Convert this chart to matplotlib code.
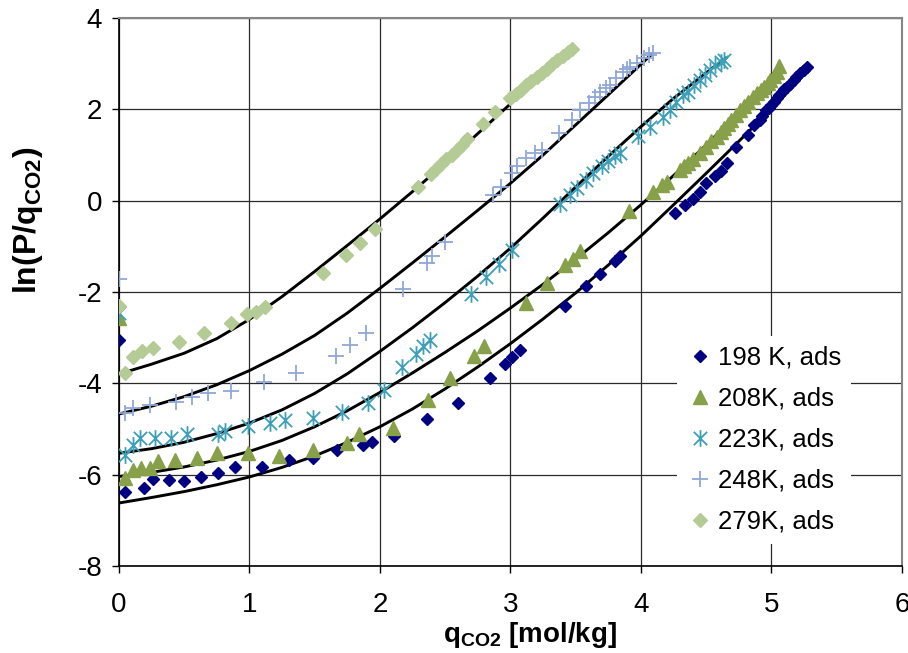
import matplotlib
matplotlib.use("Agg")
import matplotlib.pyplot as plt
from matplotlib.path import Path

plt.rcParams['font.family'] = ['Liberation Sans', 'DejaVu Sans']
plt.rcParams['axes.unicode_minus'] = False

# measured adsorption points: loading q [mol/kg] and ln(P/q)
q198 = [0.00, 0.05, 0.19, 0.26, 0.38, 0.50, 0.63, 0.76, 0.89, 1.10, 1.30, 1.49, 1.67, 1.87, 1.94,
        2.11, 2.36, 2.60, 2.84, 2.96, 3.01, 3.07, 3.42, 3.58, 3.69, 3.80, 3.84, 4.26, 4.34, 4.40,
        4.45, 4.50, 4.57, 4.61, 4.66, 4.73, 4.82, 4.87, 4.91, 4.93, 4.96, 4.98, 5.00, 5.02, 5.04,
        5.06, 5.08, 5.10, 5.12, 5.14, 5.17, 5.19, 5.22, 5.25, 5.27]
y198 = [-3.05, -6.37, -6.29, -6.09, -6.11, -6.13, -6.05, -5.96, -5.84, -5.83, -5.67, -5.64, -5.47, -5.34, -5.28,
        -5.16, -4.78, -4.42, -3.88, -3.58, -3.43, -3.28, -2.30, -1.86, -1.60, -1.33, -1.22, -0.27, -0.09, 0.03,
        0.20, 0.38, 0.53, 0.64, 0.82, 1.18, 1.44, 1.66, 1.77, 1.85, 1.99, 2.04, 2.10, 2.17, 2.24,
        2.31, 2.39, 2.45, 2.50, 2.56, 2.64, 2.70, 2.79, 2.87, 2.92]

q208 = [0.00, 0.05, 0.11, 0.17, 0.24, 0.30, 0.43, 0.60, 0.75, 0.99, 1.23, 1.49, 1.75, 1.84, 2.10,
        2.37, 2.54, 2.72, 2.80, 3.12, 3.28, 3.42, 3.48, 3.53, 3.91, 4.09, 4.16, 4.20, 4.30, 4.33,
        4.36, 4.40, 4.45, 4.50, 4.54, 4.58, 4.61, 4.64, 4.67, 4.69, 4.73, 4.76, 4.79, 4.82, 4.86,
        4.89, 4.92, 4.94, 4.97, 4.99, 5.02, 5.04, 5.06]
y208 = [-2.56, -6.08, -5.89, -5.85, -5.85, -5.71, -5.67, -5.64, -5.53, -5.53, -5.59, -5.47, -5.30, -5.10, -4.98,
        -4.36, -3.88, -3.41, -3.18, -2.24, -1.81, -1.40, -1.28, -1.11, -0.22, 0.20, 0.35, 0.42, 0.67, 0.75,
        0.82, 0.92, 1.05, 1.18, 1.30, 1.40, 1.50, 1.59, 1.68, 1.77, 1.88, 1.99, 2.08, 2.17, 2.26,
        2.35, 2.43, 2.50, 2.57, 2.64, 2.73, 2.82, 2.95]

q223 = [0.00, 0.05, 0.11, 0.16, 0.28, 0.40, 0.52, 0.76, 0.81, 0.99, 1.16, 1.27, 1.49, 1.71, 1.91,
        2.03, 2.17, 2.28, 2.33, 2.38, 2.70, 2.81, 2.91, 3.01, 3.38, 3.46, 3.51, 3.58, 3.63, 3.70,
        3.75, 3.80, 3.84, 3.98, 4.07, 4.17, 4.22, 4.27, 4.32, 4.36, 4.41, 4.45, 4.49, 4.53, 4.57,
        4.61, 4.64]
y223 = [-2.45, -5.56, -5.36, -5.20, -5.20, -5.20, -5.10, -5.10, -5.05, -4.94, -4.87, -4.80, -4.75, -4.62, -4.42,
        -4.15, -3.65, -3.35, -3.19, -3.05, -2.04, -1.67, -1.38, -1.08, -0.07, 0.13, 0.27, 0.45, 0.60, 0.75,
        0.86, 0.97, 1.04, 1.42, 1.61, 1.84, 1.99, 2.17, 2.32, 2.39, 2.53, 2.64, 2.75, 2.86, 2.97,
        3.04, 3.08]

q248 = [0.00, 0.05, 0.11, 0.24, 0.44, 0.56, 0.68, 0.86, 1.11, 1.36, 1.66, 1.77, 1.89, 2.18, 2.36,
        2.40, 2.50, 2.87, 2.93, 3.01, 3.05, 3.12, 3.19, 3.24, 3.37, 3.47, 3.53, 3.60, 3.65, 3.69,
        3.73, 3.76, 3.81, 3.86, 3.89, 3.92, 3.97, 4.02, 4.06, 4.09]
y248 = [-1.72, -4.66, -4.55, -4.48, -4.40, -4.30, -4.22, -4.16, -3.98, -3.77, -3.40, -3.17, -2.89, -1.94, -1.37,
        -1.22, -0.90, 0.13, 0.31, 0.60, 0.75, 0.93, 1.05, 1.11, 1.48, 1.77, 1.99, 2.13, 2.27, 2.39,
        2.46, 2.53, 2.68, 2.82, 2.88, 2.93, 3.01, 3.12, 3.19, 3.23]

q279 = [0.00, 0.05, 0.11, 0.18, 0.26, 0.46, 0.65, 0.86, 0.98, 1.05, 1.12, 1.56, 1.74, 1.85, 1.96,
        2.29, 2.39, 2.43, 2.47, 2.51, 2.55, 2.59, 2.63, 2.67, 2.79, 2.88, 3.00, 3.04, 3.08, 3.12,
        3.16, 3.20, 3.24, 3.28, 3.32, 3.36, 3.40, 3.44, 3.47]
y279 = [-2.31, -3.77, -3.43, -3.30, -3.23, -3.10, -2.89, -2.67, -2.48, -2.43, -2.32, -1.59, -1.20, -0.92, -0.62,
        0.31, 0.58, 0.69, 0.80, 0.91, 1.01, 1.12, 1.23, 1.34, 1.68, 1.95, 2.25, 2.34, 2.43, 2.53,
        2.62, 2.71, 2.80, 2.89, 2.99, 3.08, 3.17, 3.26, 3.33]

# model curves
fit_q198 = [0.0, 0.25, 0.5, 0.75, 1.0, 1.25, 1.5, 1.75, 2.0, 2.25, 2.5, 2.75, 3.0, 3.25, 3.5, 3.75,
            4.0, 4.25, 4.5, 4.75, 5.0, 5.3]
fit_y198 = [-6.62, -6.50, -6.37, -6.22, -6.05, -5.84, -5.59, -5.29, -4.95, -4.56, -4.12, -3.64, -3.13,
            -2.59, -2.02, -1.41, -0.77, -0.09, 0.60, 1.30, 2.01, 2.92]
fit_q208 = [0.0, 0.25, 0.5, 0.75, 1.0, 1.25, 1.5, 1.75, 2.0, 2.25, 2.5, 2.75, 3.0, 3.25, 3.5, 3.75,
            4.0, 4.25, 4.5, 4.75, 5.05]
fit_y208 = [-6.04, -5.95, -5.83, -5.68, -5.49, -5.25, -4.95, -4.60, -4.20, -3.77, -3.32, -2.85, -2.35,
            -1.83, -1.28, -0.70, -0.09, 0.55, 1.22, 1.92, 2.82]
fit_q223 = [0.0, 0.25, 0.5, 0.75, 1.0, 1.25, 1.5, 1.75, 2.0, 2.25, 2.5, 2.75, 3.0, 3.25, 3.5, 3.75,
            4.0, 4.25, 4.5, 4.65]
fit_y223 = [-5.53, -5.43, -5.29, -5.10, -4.87, -4.58, -4.22, -3.79, -3.30, -2.78, -2.23, -1.65, -1.04,
            -0.38, 0.30, 0.97, 1.62, 2.24, 2.80, 3.12]
fit_q248 = [0.0, 0.25, 0.5, 0.75, 1.0, 1.25, 1.5, 1.75, 2.0, 2.25, 2.5, 2.75, 3.0, 3.25, 3.5, 3.75, 4.08]
fit_y248 = [-4.67, -4.50, -4.29, -4.03, -3.72, -3.36, -2.95, -2.46, -1.92, -1.36, -0.79, -0.21, 0.38,
            1.00, 1.66, 2.32, 3.20]
fit_q279 = [0.03, 0.25, 0.5, 0.75, 1.0, 1.25, 1.5, 1.75, 2.0, 2.25, 2.5, 2.75, 3.0, 3.25, 3.47]
fit_y279 = [-3.77, -3.58, -3.34, -3.02, -2.60, -2.10, -1.55, -0.98, -0.40, 0.20, 0.82, 1.47, 2.12,
            2.76, 3.30]

labels = ['198 K, ads', '208K, ads', '223K, ads', '248K, ads', '279K, ads']

# excel style "star": vertical bar plus an x
star = Path([(0, -1), (0, 1), (-0.8, -0.8), (0.8, 0.8), (-0.8, 0.8), (0.8, -0.8)],
            [Path.MOVETO, Path.LINETO, Path.MOVETO, Path.LINETO, Path.MOVETO, Path.LINETO])

fig = plt.figure(figsize=(9.08, 6.53), dpi=100)
ax = fig.add_axes([0.131, 0.1332, 0.8623, 0.8392])

for fq, fy in [(fit_q198, fit_y198), (fit_q208, fit_y208), (fit_q223, fit_y223),
               (fit_q248, fit_y248), (fit_q279, fit_y279)]:
    ax.plot(fq, fy, color='black', lw=2.1, zorder=2, solid_joinstyle='round')

ax.plot(q198, y198, ls='none', marker='D', ms=6.0, color='#000080', mec='#000080', label=labels[0], zorder=3)
ax.plot(q208, y208, ls='none', marker='^', ms=10.5, color='#87A049', mec='#87A049', label=labels[1], zorder=3)
ax.plot(q223, y223, ls='none', marker=star, ms=12, mfc='none', mec='#3E9FB8', mew=1.3, label=labels[2], zorder=3)
ax.plot(q248, y248, ls='none', marker='+', ms=12, mec='#8EA8D8', mew=1.3, label=labels[3], zorder=3)
ax.plot(q279, y279, ls='none', marker='D', ms=7.6, color='#B4CB95', mec='#B4CB95', label=labels[4], zorder=3)

ax.set_xlim(0, 6)
ax.set_ylim(-8, 4)
ax.set_xticks(range(0, 7))
ax.set_yticks(range(-8, 5, 2))
ax.grid(True, color='#2a2a2a', lw=0.9)
ax.set_axisbelow(True)

for s in ['top', 'right']:
    ax.spines[s].set_color('#868686')
    ax.spines[s].set_linewidth(1.5)
for s in ['left', 'bottom']:
    ax.spines[s].set_color('black')
    ax.spines[s].set_linewidth(1.2)

ax.tick_params(direction='out', length=5, width=1, labelsize=20)
ax.tick_params(axis='y', pad=7)
ax.tick_params(axis='x', pad=14)

fig.text(0.584, 0.027, r'q$_{\mathregular{CO2}}$ [mol/kg]', fontsize=20, fontweight='bold',
         ha='center', va='center')
fig.text(0.031, 0.663, r'ln(P/q$_{\mathregular{CO2}}$)', fontsize=23, fontweight='bold',
         rotation=90, ha='center', va='center')

leg = ax.legend(loc='upper left', bbox_to_anchor=(0.696, 0.444), fontsize=18.5, numpoints=1,
                handlelength=1.0, handletextpad=0.2, labelspacing=0.66, borderpad=0.4,
                frameon=True, fancybox=False, framealpha=1)
leg.get_frame().set_facecolor('white')
leg.get_frame().set_edgecolor('none')

fig.savefig('out.png', dpi=100)
